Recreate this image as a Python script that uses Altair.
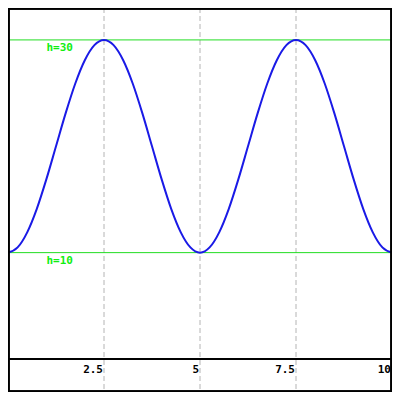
import altair as alt
import pandas as pd

# Data
x_vals = [0, 0.25, 0.5, 0.75, 1.0, 1.25, 1.5, 1.75, 2.0, 2.25, 2.5,
          2.75, 3.0, 3.25, 3.5, 3.75, 4.0, 4.25, 4.5, 4.75, 5.0,
          5.25, 5.5, 5.75, 6.0, 6.25, 6.5, 6.75, 7.0, 7.25, 7.5,
          7.75, 8.0, 8.25, 8.5, 8.75, 9.0, 9.25, 9.5, 9.75, 10.0]
h_vals = [10, 10.49, 11.91, 14.12, 16.91, 20, 23.09, 25.88, 28.09, 29.51, 30,
          29.51, 28.09, 25.88, 23.09, 20, 16.91, 14.12, 11.91, 10.49, 10,
          10.49, 11.91, 14.12, 16.91, 20, 23.09, 25.88, 28.09, 29.51, 30,
          29.51, 28.09, 25.88, 23.09, 20, 16.91, 14.12, 11.91, 10.49, 10]
grid_x = [2.5, 5, 7.5]
tick_vals = [2.5, 5, 7.5, 10]
tick_labels = ["2.5", "5", "7.5", "10"]
ref_h = [10, 30]
ref_labels = ["h=10", "h=30"]
label_x = [1.0, 1.0]

W = 384
H = 351
TOTAL = 384

df = pd.DataFrame({"x": x_vals, "h": h_vals})
gdf = pd.DataFrame({"gx": grid_x})
rdf = pd.DataFrame({"rh": ref_h, "lab": ref_labels, "lx": label_x})
tdf = pd.DataFrame({"tx": tick_vals, "tl": tick_labels})

xs = alt.Scale(domain=[0, 10], nice=False, zero=False)
ys = alt.Scale(domain=[0, 33], nice=False, zero=False)

grid = alt.Chart(gdf).mark_rule(color="#b4b4b4", strokeWidth=1, strokeDash=[5, 3]).encode(
    x=alt.X("gx:Q", scale=xs, axis=None),
    y=alt.value(0),
    y2=alt.value(TOTAL),
)

refs = alt.Chart(rdf).mark_rule(color="#22dd22", strokeWidth=1).encode(
    y=alt.Y("rh:Q", scale=ys, axis=None),
    x=alt.value(0),
    x2=alt.value(W),
)

labels = alt.Chart(rdf).mark_text(
    color="#11ee11", font="DejaVu Sans Mono", fontWeight="bold", fontSize=11,
    align="left", baseline="top", dy=2
).encode(
    x=alt.X("lx:Q", scale=xs, axis=None),
    y=alt.Y("rh:Q", scale=ys, axis=None),
    text="lab:N",
)

line = alt.Chart(df).mark_line(color="#1a1ae6", strokeWidth=2, interpolate="monotone").encode(
    x=alt.X("x:Q", scale=xs, axis=None),
    y=alt.Y("h:Q", scale=ys, axis=None),
)

axis_line = alt.Chart(tdf).mark_rule(color="black", strokeWidth=1.5).encode(
    x=alt.value(0), x2=alt.value(TOTAL), y=alt.value(H),
)

ticklabels = alt.Chart(tdf).mark_text(
    color="black", font="DejaVu Sans Mono", fontWeight="bold", fontSize=11,
    align="right", baseline="top", dx=-1
).encode(
    x=alt.X("tx:Q", scale=xs, axis=None),
    y=alt.value(H + 5),
    text="tl:N",
)

frame = alt.Chart(tdf).mark_rect(filled=False, stroke="black", strokeWidth=1.5, fill=None).encode(
    x=alt.value(0.75), x2=alt.value(TOTAL - 0.75),
    y=alt.value(0.75), y2=alt.value(TOTAL - 0.75),
)

chart = alt.layer(grid, refs, line, labels, axis_line, ticklabels, frame).properties(
    width=W, height=H,
    autosize=alt.AutoSizeParams(type="none"),
    padding={"left": 0, "top": 0, "right": 0, "bottom": TOTAL - H},
    background="white",
).configure_view(stroke=None)

chart.save("out.html", embed_options={"renderer": "svg", "actions": False})
